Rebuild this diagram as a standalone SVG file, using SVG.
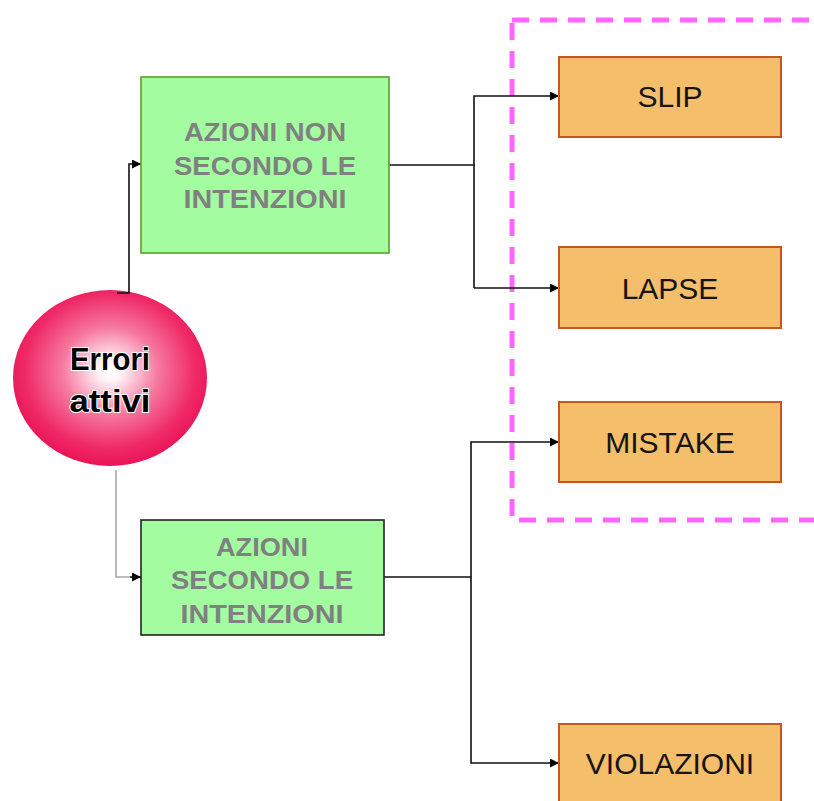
<svg xmlns="http://www.w3.org/2000/svg" width="814" height="801" viewBox="0 0 814 801">
  <defs>
    <radialGradient id="ballFill" cx="0.5" cy="0.46" r="0.55">
      <stop offset="0" stop-color="#ffffff"/>
      <stop offset="0.1" stop-color="#fff6f9"/>
      <stop offset="0.45" stop-color="#f6799f"/>
      <stop offset="0.8" stop-color="#ef2a66"/>
      <stop offset="1" stop-color="#ea1255"/>
    </radialGradient>
    <marker id="arrow" viewBox="0 0 10 10" refX="10" refY="5" markerWidth="11" markerHeight="9" markerUnits="userSpaceOnUse" orient="auto">
      <path d="M0,0 L10,5 L0,10 z" fill="#000"/>
    </marker>
    <style>
      .intent { fill: #a3fca0; stroke-width: 1.6; }
      .intent text { font-family: "Liberation Sans", Arial, sans-serif; font-weight: bold; font-size: 26px; fill: #808080; text-anchor: middle; }
      .kind rect { fill: #f4be6a; stroke: #c8561f; stroke-width: 2; }
      .kind text { font-family: "Liberation Sans", Arial, sans-serif; font-size: 30px; fill: #151515; text-anchor: middle; }
      .link { fill: none; stroke: #111; stroke-width: 1.6; }
      .soft { stroke: #a8a8a8; }
      .zone { fill: none; stroke: #ff66ff; stroke-width: 5; stroke-dasharray: 17 11; }
    </style>
  </defs>

  <!-- dashed boundary around slip / lapse / mistake -->
  <rect class="zone" x="512" y="20" width="420" height="500"/>

  <!-- root: active errors -->
  <g id="errori-attivi">
    <ellipse cx="110" cy="378" rx="97" ry="88" fill="url(#ballFill)"/>
    <g font-family="Liberation Sans, Arial, sans-serif" font-weight="bold" font-size="32" fill="#000" stroke="#fff" stroke-width="2" paint-order="stroke" text-anchor="middle">
      <text x="110" y="370" textLength="80" lengthAdjust="spacingAndGlyphs">Errori</text>
      <text x="110" y="412" textLength="81" lengthAdjust="spacingAndGlyphs">attivi</text>
    </g>
  </g>

  <!-- connectors -->
  <g id="connectors">
    <path class="link" d="M117,293 H129 V164 H141" marker-end="url(#arrow)"/>
    <path class="link soft" d="M116,470 V577 H130"/>
    <path class="link" d="M130,577 H141" marker-end="url(#arrow)"/>
    <path class="link" d="M389,165 H474 V96 H559" marker-end="url(#arrow)"/>
    <path class="link" d="M474,165 V288"/>
    <path class="link" d="M474,288 H559" stroke="#555" marker-end="url(#arrow)"/>
    <path class="link" d="M384,577 H471 V442 H559" marker-end="url(#arrow)"/>
    <path class="link" d="M471,577 V763 H559" marker-end="url(#arrow)"/>
  </g>

  <g id="azioni-non-secondo" class="intent">
    <rect x="141" y="77" width="248" height="176" stroke="#5b9f2c" class="intent"/>
    <text x="265" y="141" textLength="162" lengthAdjust="spacingAndGlyphs">AZIONI NON</text>
    <text x="265" y="175" textLength="182" lengthAdjust="spacingAndGlyphs">SECONDO LE</text>
    <text x="265" y="208" textLength="163" lengthAdjust="spacingAndGlyphs">INTENZIONI</text>
  </g>

  <g id="azioni-secondo" class="intent">
    <rect x="141" y="520" width="243" height="115" stroke="#222" class="intent"/>
    <text x="262" y="556" textLength="92" lengthAdjust="spacingAndGlyphs">AZIONI</text>
    <text x="262" y="589" textLength="182" lengthAdjust="spacingAndGlyphs">SECONDO LE</text>
    <text x="262" y="623" textLength="163" lengthAdjust="spacingAndGlyphs">INTENZIONI</text>
  </g>

  <g id="slip" class="kind">
    <rect x="559" y="57" width="222" height="80"/>
    <text x="670" y="107">SLIP</text>
  </g>

  <g id="lapse" class="kind">
    <rect x="559" y="247" width="222" height="81"/>
    <text x="670" y="299">LAPSE</text>
  </g>

  <g id="mistake" class="kind">
    <rect x="559" y="402" width="222" height="80"/>
    <text x="670" y="453">MISTAKE</text>
  </g>

  <g id="violazioni" class="kind">
    <rect x="559" y="724" width="222" height="82"/>
    <text x="670" y="774">VIOLAZIONI</text>
  </g>
</svg>
